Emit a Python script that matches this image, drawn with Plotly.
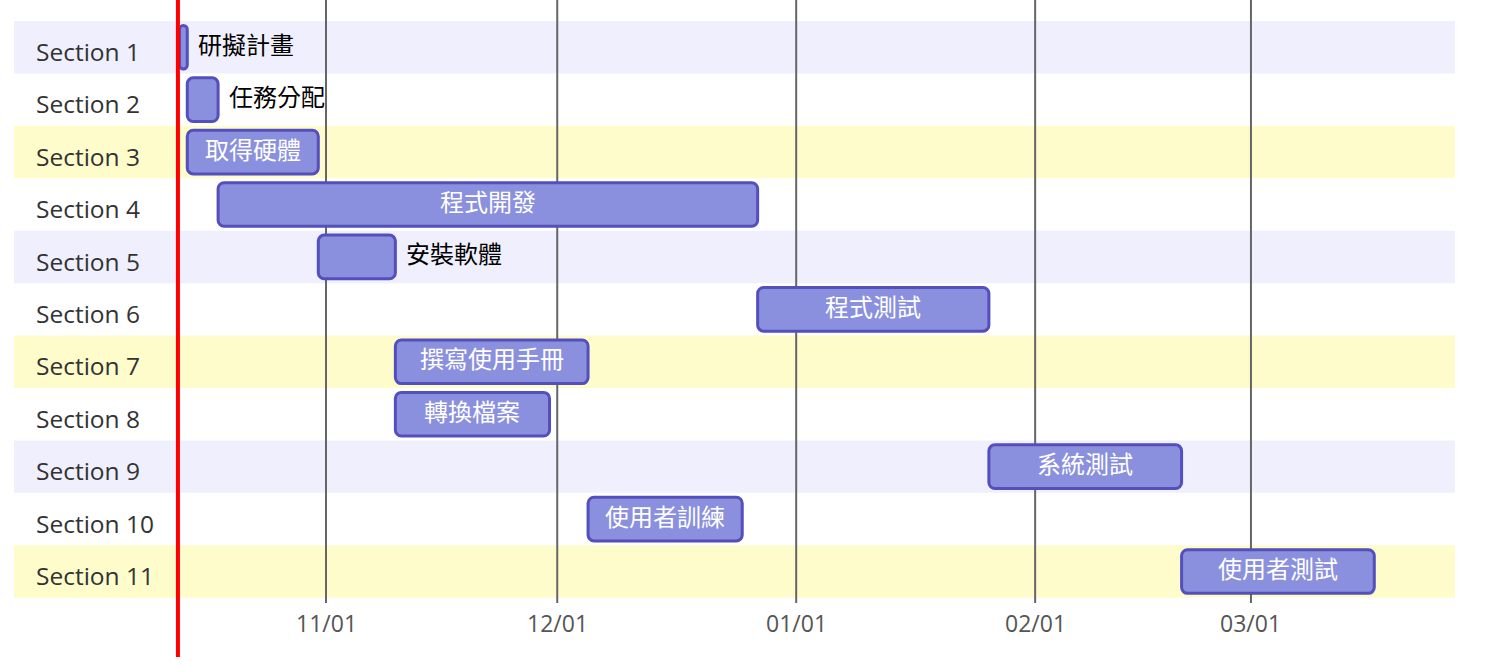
import pandas as pd
import plotly.graph_objects as go

# ---- data ----
sections = ["Section 1", "Section 2", "Section 3", "Section 4", "Section 5", "Section 6",
            "Section 7", "Section 8", "Section 9", "Section 10", "Section 11"]
task_names = ["研擬計畫", "任務分配", "取得硬體", "程式開發", "安裝軟體", "程式測試",
              "撰寫使用手冊", "轉換檔案", "系統測試", "使用者訓練", "使用者測試"]
task_starts = ["2014-10-13", "2014-10-14", "2014-10-14", "2014-10-18", "2014-10-31", "2014-12-27",
               "2014-11-10", "2014-11-10", "2015-01-26", "2014-12-05", "2015-02-20"]
task_days = [1, 4, 17, 70, 10, 30, 25, 20, 25, 20, 25]
tick_dates = ["2014-11-01", "2014-12-01", "2015-01-01", "2015-02-01", "2015-03-01"]
tick_labels = ["11/01", "12/01", "01/01", "02/01", "03/01"]
today = "2014-10-12 19:00"

# ---- layout helpers ----
W, H = 1496, 665
ROW = 52.43
TOP = 21.0
PX_PER_DAY = 7.708
X_NOV1 = 326.0

starts = pd.to_datetime(task_starts)
ends = starts + pd.to_timedelta(task_days, unit="D")
mids = starts + (ends - starts) / 2
rows = list(range(len(sections)))

nov1 = pd.Timestamp(tick_dates[0])
x_left = nov1 - pd.Timedelta(days=X_NOV1 / PX_PER_DAY)
x_right = nov1 + pd.Timedelta(days=(W - X_NOV1) / PX_PER_DAY)

y_top = -0.5 - TOP / ROW
y_bottom = y_top + H / ROW

inside = [d >= 15 for d in task_days]

fig = go.Figure()
fig.add_trace(go.Bar(
    y=rows,
    x=[d * 86400000 for d in task_days],
    base=[s.strftime("%Y-%m-%d") for s in starts],
    orientation="h",
    width=0.832,
    marker=dict(color="#8a90dd", line=dict(color="#534fbc", width=3), cornerradius=6),
    hoverinfo="skip",
    showlegend=False,
))

shapes = []
band_colors = ["#efeffd", "rgba(0,0,0,0)", "#fffccc", "rgba(0,0,0,0)"]
for r in rows:
    shapes.append(dict(type="rect", xref="paper", yref="y",
                       x0=14 / W, x1=1455 / W, y0=r - 0.5, y1=r + 0.5,
                       fillcolor=band_colors[r % 4], line=dict(width=0), layer="below"))
for td in tick_dates:
    shapes.append(dict(type="line", xref="x", yref="paper",
                       x0=td, x1=td, y0=1, y1=1 - 603 / H,
                       line=dict(color="#666666", width=2), layer="below"))
shapes.append(dict(type="line", xref="x", yref="paper", x0=today, x1=today,
                   y0=1, y1=1 - 657 / H, line=dict(color="#ff0000", width=4), layer="above"))

annotations = []
for r, s in zip(rows, sections):
    annotations.append(dict(text=s, xref="paper", yref="y", x=34 / W, y=r + 0.08,
                            xanchor="left", yanchor="middle", showarrow=False,
                            font=dict(family="Open Sans", size=24.5, color="#333333")))
for r, n, e, m, ins in zip(rows, task_names, ends, mids, inside):
    if ins:
        annotations.append(dict(text=n, xref="x", yref="y", x=m, y=r,
                                xanchor="center", yanchor="middle", yshift=4, showarrow=False,
                                font=dict(family="Noto Sans CJK TC", size=24, color="#ffffff")))
    else:
        annotations.append(dict(text=n, xref="x", yref="y", x=e, y=r,
                                xanchor="left", yanchor="middle", xshift=9, yshift=4,
                                showarrow=False,
                                font=dict(family="Noto Sans CJK TC", size=24, color="#000000")))
for td, tl in zip(tick_dates, tick_labels):
    annotations.append(dict(text=tl, xref="x", yref="paper", x=td, y=1 - 623 / H,
                            xanchor="center", yanchor="middle", showarrow=False,
                            font=dict(family="Open Sans", size=23, color="#555555")))

fig.update_layout(
    width=W, height=H,
    margin=dict(l=0, r=0, t=0, b=0),
    paper_bgcolor="white", plot_bgcolor="rgba(0,0,0,0)",
    xaxis=dict(type="date", range=[x_left, x_right], visible=False, fixedrange=True),
    yaxis=dict(range=[y_bottom, y_top], visible=False, fixedrange=True),
    shapes=shapes, annotations=annotations,
    hovermode=False,
)

fig.write_html("out.html", config={"displayModeBar": False})
